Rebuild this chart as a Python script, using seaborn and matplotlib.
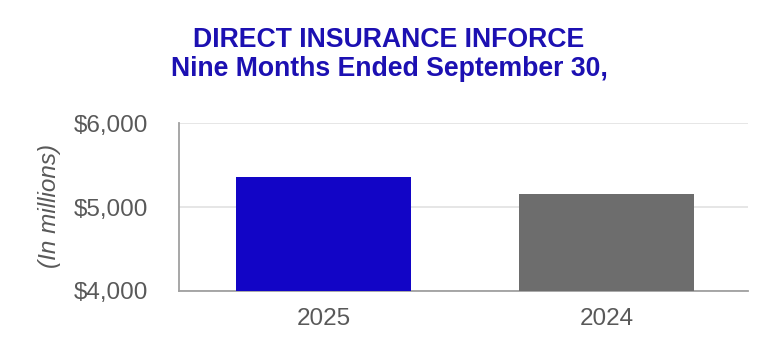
import matplotlib
matplotlib.use("Agg")
import matplotlib.pyplot as plt
import seaborn as sns
import pandas as pd

# Data
years = ["2025", "2024"]
inforce = [5355, 5160]
bar_colors = ["#1205C6", "#6D6D6D"]
y_ticks = [4000, 5000, 6000]
y_tick_labels = ["$4,000", "$5,000", "$6,000"]
title_lines = ["DIRECT INSURANCE INFORCE", "Nine Months Ended September 30,"]
y_label = "(In millions)"

sns.set_theme(style="white")
plt.rcParams["font.family"] = ["Liberation Sans", "DejaVu Sans"]

df = pd.DataFrame({"year": years, "value": inforce})

fig = plt.figure(figsize=(7.78, 3.64), dpi=100)
ax = fig.add_axes([179 / 778, 1 - 291 / 364, 569 / 778, (291 - 123.3) / 364])

sns.barplot(data=df, x="year", y="value", hue="year", palette=bar_colors,
            order=years, hue_order=years, width=0.617, legend=False,
            saturation=1, ax=ax, linewidth=0, zorder=3)

ax.set_ylim(4000, 6000)
ax.set_xlim(-0.51, 1.5)
ax.set_yticks(y_ticks)
ax.set_yticklabels(y_tick_labels)
ax.yaxis.grid(True, color="#E4E4E4", linewidth=1.3, zorder=0)
ax.set_axisbelow(True)

for s in ["top", "right"]:
    ax.spines[s].set_visible(False)
for s in ["left", "bottom"]:
    ax.spines[s].set_color("#A0A0A0")
    ax.spines[s].set_linewidth(1.3)

ax.tick_params(axis="y", length=0, pad=22, labelsize=17.5, labelcolor="#595959")
ax.tick_params(axis="x", length=0, pad=12, labelsize=17.5, labelcolor="#595959")
ax.set_xlabel("")
ax.set_ylabel(y_label, fontsize=17.5, color="#595959", style="italic")
ax.yaxis.set_label_coords(-0.208, 0.51)

fig.text(389 / 778, 1 - 40 / 364, title_lines[0], ha="center", va="center",
         fontsize=19.2, fontweight="bold", color="#1C10B2")
fig.text(389 / 778, 1 - 69 / 364, title_lines[1], ha="center", va="center",
         fontsize=19.2, fontweight="bold", color="#1C10B2")

fig.savefig("out.png", dpi=100)
